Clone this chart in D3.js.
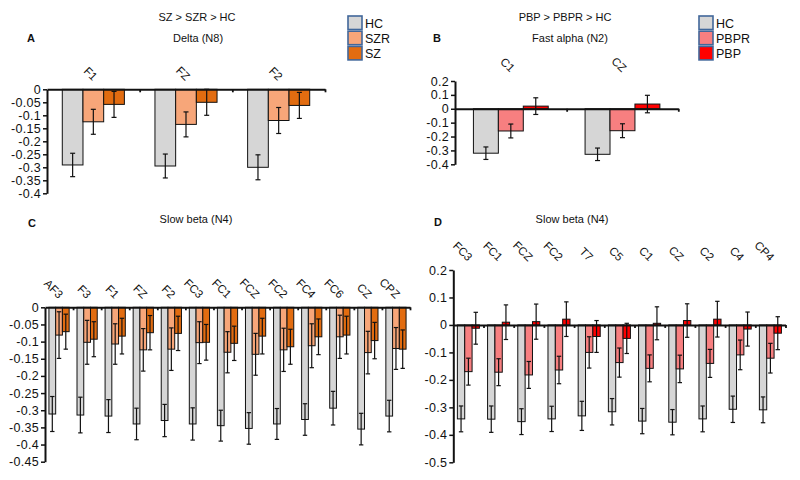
<!DOCTYPE html>
<html><head><meta charset="utf-8">
<script src="https://cdn.jsdelivr.net/npm/d3@7"></script>
<style>
body{margin:0;background:#fff;}
svg{display:block;font-family:"Liberation Sans",Arial,sans-serif;}
</style></head>
<body><svg id="c" width="800" height="480"></svg>
<script>
// ---------- Panel A ----------
const catsA = ["F1","FZ","F2"];
const hcA = [-0.291,-0.295,-0.300];
const hcErrA = [0.045,0.046,0.048];
const szrA = [-0.125,-0.135,-0.120];
const szrErrA = [0.048,0.048,0.050];
const szA = [-0.058,-0.050,-0.062];
const szErrA = [0.050,0.050,0.050];
const ticksA = [0,-0.05,-0.1,-0.15,-0.2,-0.25,-0.3,-0.35,-0.4];
// ---------- Panel B ----------
const catsB = ["C1","CZ"];
const hcB = [-0.320,-0.328];
const hcErrB = [0.045,0.045];
const pbprB = [-0.160,-0.158];
const pbprErrB = [0.050,0.050];
const pbpB = [0.019,0.034];
const pbpErrB = [0.060,0.063];
const ticksB = [0.2,0.1,0,-0.1,-0.2,-0.3,-0.4];
// ---------- Panel C ----------
const catsC = ["AF3","F3","F1","FZ","F2","FC3","FC1","FCZ","FC2","FC4","FC6","CZ","CPZ"];
const hcC = [-0.311,-0.314,-0.317,-0.340,-0.330,-0.340,-0.345,-0.353,-0.340,-0.327,-0.294,-0.355,-0.317];
const hcErrC = [0.051,0.052,0.048,0.046,0.047,0.047,0.045,0.046,0.045,0.046,0.049,0.046,0.046];
const szrC = [-0.081,-0.102,-0.107,-0.124,-0.122,-0.103,-0.131,-0.137,-0.124,-0.112,-0.086,-0.132,-0.120];
const szrErrC = [0.068,0.064,0.059,0.062,0.062,0.061,0.060,0.061,0.063,0.064,0.063,0.062,0.061];
const szC = [-0.071,-0.093,-0.084,-0.074,-0.076,-0.102,-0.105,-0.084,-0.115,-0.086,-0.081,-0.097,-0.122];
const szErrC = [0.051,0.051,0.052,0.050,0.050,0.052,0.050,0.052,0.051,0.052,0.055,0.053,0.056];
const ticksC = [0,-0.05,-0.1,-0.15,-0.2,-0.25,-0.3,-0.35,-0.4,-0.45];
// ---------- Panel D ----------
const catsD = ["FC3","FC1","FCZ","FC2","T7","C5","C1","CZ","C2","C4","CP4"];
const hcD = [-0.342,-0.343,-0.352,-0.342,-0.331,-0.316,-0.350,-0.354,-0.342,-0.307,-0.309];
const hcErrD = [0.047,0.048,0.047,0.046,0.053,0.048,0.046,0.046,0.047,0.048,0.047];
const pbprD = [-0.170,-0.172,-0.182,-0.164,-0.100,-0.137,-0.158,-0.160,-0.140,-0.109,-0.121];
const pbprErrD = [0.049,0.049,0.049,0.050,0.057,0.053,0.049,0.050,0.051,0.054,0.054];
const pbpD = [-0.012,0.010,0.012,0.021,-0.042,-0.049,0.006,0.016,0.021,-0.015,-0.030];
const pbpErrD = [0.058,0.063,0.064,0.063,0.058,0.055,0.060,0.061,0.065,0.062,0.060];
const ticksD = [0.2,0.1,0,-0.1,-0.2,-0.3,-0.4,-0.5];

const COL = {HC:"#d6d6d6", SZR:"#f7a679", SZ:"#e26c10", PBPR:"#f77f80", PBP:"#ff0000"};
const svg = d3.select("#c");
const fmt = v => String(v);

function panel(cfg){
  const g = svg.append("g");
  const y = d3.scaleLinear().domain(cfg.domain).range([cfg.yb, cfg.yt]);
  const n = cfg.cats.length;
  const xb = d3.scaleBand().domain(cfg.cats).range([cfg.x0, cfg.x1])
      .paddingInner(cfg.pad).paddingOuter(cfg.pad/2);
  const xs = d3.scaleBand().domain(d3.range(cfg.series.length)).range([0, xb.bandwidth()]);
  const xl = d3.scaleLinear().domain([0,n]).range([cfg.x0, cfg.x1]);
  cfg.series.forEach((s,i)=>{
    g.selectAll(null).data(cfg.cats).join("rect")
      .attr("x", (c)=>xb(c)+xs(i))
      .attr("width", xs.bandwidth())
      .attr("y", (c,j)=>y(Math.max(0,s.v[j])))
      .attr("height", (c,j)=>Math.abs(y(s.v[j])-y(0)))
      .attr("fill", s.color).attr("stroke","#111").attr("stroke-width",1);
  });
  cfg.series.forEach((s,i)=>{
    const cx = c => xb(c)+xs(i)+xs.bandwidth()/2;
    const cw = cfg.cap;
    const eg = g.append("g").attr("stroke","#111").attr("stroke-width",1.2);
    eg.selectAll(null).data(cfg.cats).join("line")
      .attr("x1",cx).attr("x2",cx)
      .attr("y1",(c,j)=>y(s.v[j]-s.e[j])).attr("y2",(c,j)=>y(s.v[j]+s.e[j]));
    eg.selectAll(null).data(cfg.cats).join("line")
      .attr("x1",c=>cx(c)-cw).attr("x2",c=>cx(c)+cw)
      .attr("y1",(c,j)=>y(s.v[j]-s.e[j])).attr("y2",(c,j)=>y(s.v[j]-s.e[j]));
    eg.selectAll(null).data(cfg.cats).join("line")
      .attr("x1",c=>cx(c)-cw).attr("x2",c=>cx(c)+cw)
      .attr("y1",(c,j)=>y(s.v[j]+s.e[j])).attr("y2",(c,j)=>y(s.v[j]+s.e[j]));
  });
  const xa = g.append("g").attr("transform",`translate(0,${y(0)})`)
    .call(d3.axisBottom(xl).tickValues(d3.range(1,n+1)).tickSize(3).tickSizeOuter(0).tickFormat(""));
  xa.select(".domain").attr("stroke","#111").attr("stroke-width",2);
  xa.selectAll(".tick line").attr("stroke","#111").attr("stroke-width",1.8);
  const ya = g.append("g").attr("transform",`translate(${cfg.x0},0)`)
    .call(d3.axisLeft(y).tickValues(cfg.ticks).tickFormat(fmt).tickSize(4).tickSizeOuter(0));
  ya.select(".domain").attr("stroke","#111").attr("stroke-width",2);
  ya.selectAll(".tick line").attr("stroke","#111").attr("stroke-width",1.5);
  ya.selectAll(".tick text").attr("font-size",12.5).attr("fill","#111").attr("x",-6)
    .attr("letter-spacing","0.3px")
    .attr("font-family","'Liberation Sans',Arial,sans-serif");
  g.selectAll(null).data(cfg.cats).join("text")
    .attr("transform", c=>`translate(${xb(c)+xb.bandwidth()/2+2},${cfg.yt-11}) rotate(45)`)
    .attr("text-anchor","end").attr("dy","0.35em")
    .attr("font-size",11.5).attr("fill","#111").text(c=>c);
  if(cfg.super) g.append("text").attr("x",cfg.superX).attr("y",21).attr("text-anchor","middle")
      .attr("font-size",11).attr("fill","#111").text(cfg.super);
  g.append("text").attr("x",cfg.letterX).attr("y",cfg.letterY).attr("text-anchor","middle")
      .attr("font-size",11).attr("font-weight","bold").attr("fill","#111").text(cfg.letter);
  g.append("text").attr("x",cfg.titleX).attr("y",cfg.titleY).attr("text-anchor","middle")
      .attr("font-size",11).attr("fill","#111").text(cfg.title);
  if(cfg.legend){
    const lg = g.append("g").attr("transform",`translate(${cfg.legend.x},16)`);
    cfg.legend.items.forEach((it,i)=>{
      lg.append("rect").attr("x",0).attr("y",i*15.2).attr("width",14).attr("height",13.5)
        .attr("fill",it.color).attr("stroke","#41679a").attr("stroke-width",1.6);
      lg.append("text").attr("x",17).attr("y",i*15.2+7).attr("dy","0.36em")
        .attr("font-size",12.5).attr("fill","#111").text(it.name);
    });
  }
}

panel({x0:47,x1:325,yt:89.3,yb:193.3,domain:[-0.4,0],ticks:ticksA,cats:catsA,pad:0.33,cap:2.5,
  series:[{v:hcA,e:hcErrA,color:COL.HC},{v:szrA,e:szrErrA,color:COL.SZR},{v:szA,e:szErrA,color:COL.SZ}],
  super:"SZ > SZR > HC",superX:197,letter:"A",letterX:31,letterY:42,title:"Delta (N8)",titleX:198,titleY:42,
  legend:{x:348,items:[{name:"HC",color:COL.HC},{name:"SZR",color:COL.SZR},{name:"SZ",color:COL.SZ}]}});

panel({x0:455,x1:678.3,yt:81,yb:164.3,domain:[-0.4,0.2],ticks:ticksB,cats:catsB,pad:0.33,cap:2.5,
  series:[{v:hcB,e:hcErrB,color:COL.HC},{v:pbprB,e:pbprErrB,color:COL.PBPR},{v:pbpB,e:pbpErrB,color:COL.PBP}],
  super:"PBP > PBPR > HC",superX:565,letter:"B",letterX:437,letterY:42,title:"Fast alpha (N2)",titleX:570,titleY:42,
  legend:{x:699,items:[{name:"HC",color:COL.HC},{name:"PBPR",color:COL.PBPR},{name:"PBP",color:COL.PBP}]}});

panel({x0:45,x1:410,yt:307.3,yb:461.7,domain:[-0.45,0],ticks:ticksC,cats:catsC,pad:0.28,cap:2.2,
  series:[{v:hcC,e:hcErrC,color:COL.HC},{v:szrC,e:szrErrC,color:COL.SZR},{v:szC,e:szErrC,color:COL.SZ}],
  letter:"C",letterX:32,letterY:227,title:"Slow beta (N4)",titleX:196,titleY:223});

panel({x0:453.3,x1:785.5,yt:270,yb:462.3,domain:[-0.5,0.2],ticks:ticksD,cats:catsD,pad:0.27,cap:2.2,
  series:[{v:hcD,e:hcErrD,color:COL.HC},{v:pbprD,e:pbprErrD,color:COL.PBPR},{v:pbpD,e:pbpErrD,color:COL.PBP}],
  letter:"D",letterX:438,letterY:226,title:"Slow beta (N4)",titleX:572,titleY:223});
</script></body></html>
